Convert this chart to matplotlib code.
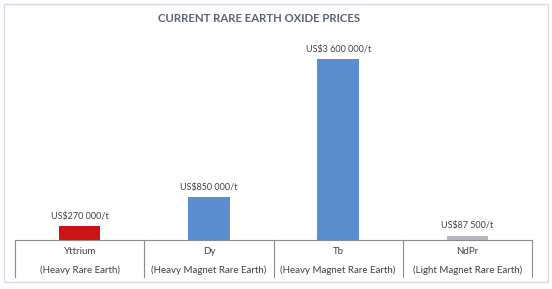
import matplotlib.pyplot as plt
from matplotlib.patches import Rectangle

# data
names = ['Yttrium', 'Dy', 'Tb', 'NdPr']
groups = ['(Heavy Rare Earth)', '(Heavy Magnet Rare Earth)',
          '(Heavy Magnet Rare Earth)', '(Light Magnet Rare Earth)']
prices = [270000, 850000, 3600000, 87500]
price_labels = ['US$270 000/t', 'US$850 000/t', 'US$3 600 000/t', 'US$87 500/t']
colors = ['#CC1414', '#5A8ED0', '#5A8ED0', '#B4B6BE']

plt.rcParams['font.family'] = ['Lato', 'DejaVu Sans']

fig = plt.figure(figsize=(5.52, 2.89), dpi=100)
fig.patches.append(Rectangle((4 / 552, 7 / 289), 544 / 552, 278 / 289,
                             transform=fig.transFigure, fill=False,
                             edgecolor='#D6DAE4', linewidth=1))

ax = fig.add_axes([15 / 552, 49 / 289, 517 / 552, 201 / 289])
x = range(len(names))
bars = ax.bar(x, prices, width=0.32, color=colors)
ax.set_xlim(-0.5, len(names) - 0.5)
ax.set_ylim(0, 4.0e6)

for bar, lab in zip(bars, price_labels):
    ax.annotate(lab, (bar.get_x() + bar.get_width() / 2, bar.get_height()),
                xytext=(0, 4), textcoords='offset points',
                ha='center', va='bottom', fontsize=6.5, color='#404040')

for s in ['top', 'right', 'left']:
    ax.spines[s].set_visible(False)
ax.spines['bottom'].set_color('#8A8A8A')
ax.set_yticks([])
ax.set_xticks([])

# category labels and separators under the axis
for i in range(len(names)):
    ax.text(i, -0.058, names[i], transform=ax.get_xaxis_transform(),
            ha='center', va='center', fontsize=7, color='#404040')
    ax.text(i, -0.148, groups[i], transform=ax.get_xaxis_transform(),
            ha='center', va='center', fontsize=7, color='#404040')
for i in range(len(names) + 1):
    ax.plot([i - 0.5, i - 0.5], [0, -0.185], transform=ax.get_xaxis_transform(),
            color='#8A8A8A', linewidth=0.8, clip_on=False)

fig.text(259 / 552, 1 - 19 / 289, 'CURRENT RARE EARTH OXIDE PRICES',
         ha='center', va='center', fontsize=8.2, fontweight='bold', color='#5A6275')

fig.savefig('out.png', dpi=100)
